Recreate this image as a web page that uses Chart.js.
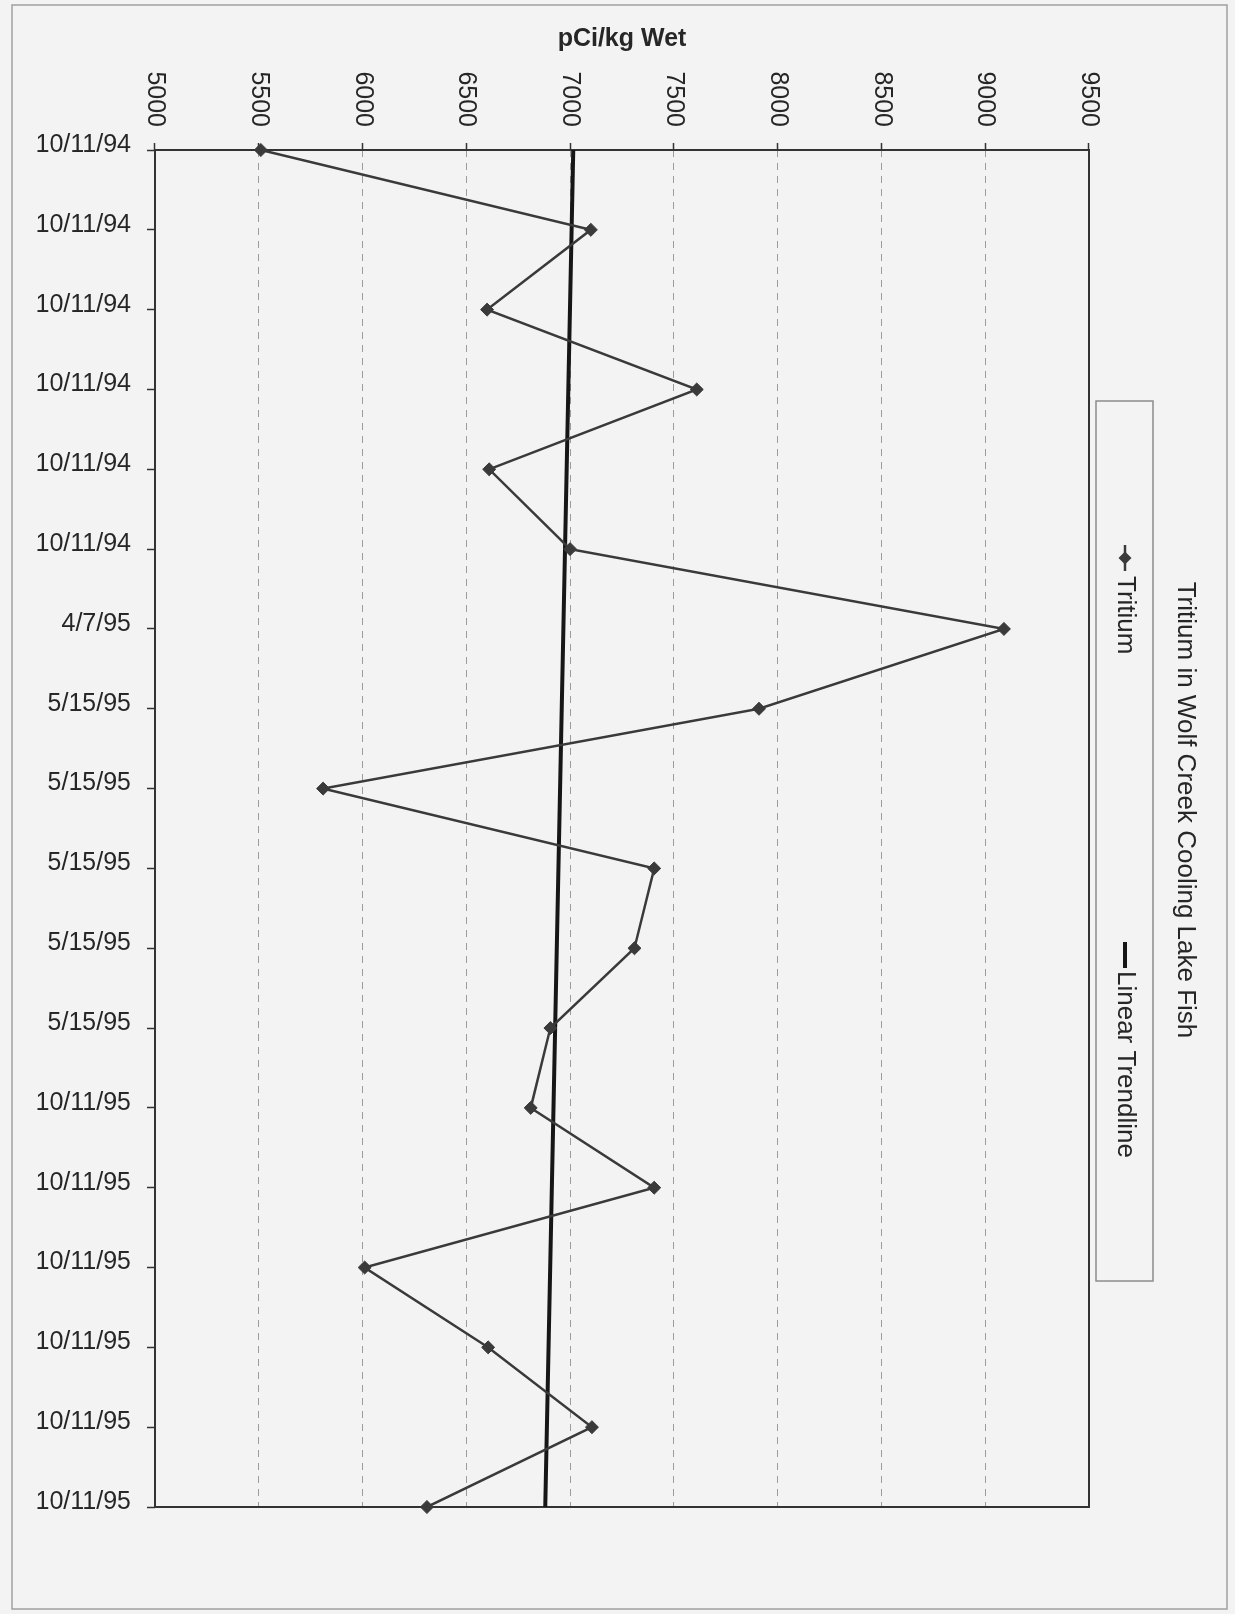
<!DOCTYPE html>
<html>
<head>
<meta charset="utf-8">
<title>Tritium in Wolf Creek Cooling Lake Fish</title>
<script src="https://cdn.jsdelivr.net/npm/chart.js@4.4.1/dist/chart.umd.min.js"></script>
<style>
  html, body { margin: 0; padding: 0; width: 1235px; height: 1614px; overflow: hidden; background: #f3f3f3; }
  /* The chart is laid out landscape and turned a quarter clockwise onto the portrait page */
  #sheet { position: absolute; left: 0; top: 0; width: 1614px; height: 1235px;
           transform-origin: 0 0; transform: translate(1235px, 0) rotate(90deg); }
  canvas { display: block; }
</style>
</head>
<body>
<div id="sheet"><canvas id="chart" width="1614" height="1235"></canvas></div>
<script>
// Sample collection dates (one entry per fish sample)
const sampleDates = [
  '10/11/94', '10/11/94', '10/11/94', '10/11/94', '10/11/94', '10/11/94',
  '4/7/95',
  '5/15/95', '5/15/95', '5/15/95', '5/15/95', '5/15/95',
  '10/11/95', '10/11/95', '10/11/95', '10/11/95', '10/11/95', '10/11/95'
];

// Tritium concentration, pCi/kg wet
const tritium = [5510, 7100, 6600, 7610, 6610, 7000, 9090, 7910, 5810,
                 7405, 7310, 6905, 6810, 7405, 6010, 6605, 7105, 6310];

// Linear trendline value at the first and last sample
const trendEnds = [7015, 6880];

// Value axis ticks
const valueTicks = [5000, 5500, 6000, 6500, 7000, 7500, 8000, 8500, 9000, 9500];

const axisTitle = 'pCi/kg Wet';
const legendTitle = 'Tritium in Wolf Creek Cooling Lake Fish';
const seriesNames = ['Tritium', 'Linear Trendline'];

const FONT = "'Liberation Sans', Arial, Helvetica, sans-serif";
const INK = '#262626';
const SERIES_COLOR = '#3a3a3a';
const TREND_COLOR = '#161616';

// Trendline only has values at both ends; the gap is spanned by a straight segment
const trendData = sampleDates.map((_, i) =>
  i === 0 ? trendEnds[0] : (i === sampleDates.length - 1 ? trendEnds[1] : null));

function diamond(ctx, cx, cy, r) {
  ctx.beginPath();
  ctx.moveTo(cx, cy - r);
  ctx.lineTo(cx + r, cy);
  ctx.lineTo(cx, cy + r);
  ctx.lineTo(cx - r, cy);
  ctx.closePath();
  ctx.fill();
}

const decorations = {
  id: 'decorations',
  beforeDraw(chart) {
    const ctx = chart.ctx;
    ctx.save();
    ctx.fillStyle = '#f3f3f3';
    ctx.fillRect(0, 0, chart.width, chart.height);
    // page frame
    ctx.strokeStyle = '#a0a0a0';
    ctx.lineWidth = 1.5;
    ctx.strokeRect(5, 8, 1604, 1215);
    ctx.restore();
  },
  beforeDatasetsDraw(chart) {
    const { ctx, chartArea: a } = chart;
    ctx.save();
    ctx.strokeStyle = '#333333';
    ctx.lineWidth = 2;
    ctx.strokeRect(a.left, a.top, a.right - a.left, a.bottom - a.top);
    ctx.restore();
  },
  afterDraw(chart) {
    const ctx = chart.ctx;
    ctx.save();
    // legend title
    ctx.fillStyle = INK;
    ctx.font = '26px ' + FONT;
    ctx.textAlign = 'center';
    ctx.textBaseline = 'middle';
    ctx.fillText(legendTitle, 810, 50);

    // legend box
    ctx.strokeStyle = '#8c8c8c';
    ctx.lineWidth = 1.5;
    ctx.strokeRect(401, 82, 880, 57);

    const cy = 110;
    // Tritium entry: line with diamond marker
    ctx.strokeStyle = SERIES_COLOR;
    ctx.lineWidth = 2.5;
    ctx.beginPath(); ctx.moveTo(545, cy); ctx.lineTo(571, cy); ctx.stroke();
    ctx.fillStyle = SERIES_COLOR;
    diamond(ctx, 558, cy, 6.5);
    ctx.fillStyle = INK;
    ctx.textAlign = 'left';
    ctx.fillText(seriesNames[0], 576, cy);

    // Trendline entry
    ctx.strokeStyle = TREND_COLOR;
    ctx.lineWidth = 4;
    ctx.beginPath(); ctx.moveTo(942, cy); ctx.lineTo(968, cy); ctx.stroke();
    ctx.fillText(seriesNames[1], 971, cy);
    ctx.restore();
  }
};

new Chart(document.getElementById('chart'), {
  type: 'line',
  data: {
    labels: sampleDates,
    datasets: [
      {
        label: seriesNames[0],
        data: tritium,
        borderColor: SERIES_COLOR,
        borderWidth: 2.5,
        pointStyle: 'rectRot',
        pointRadius: 6.5,
        pointBackgroundColor: SERIES_COLOR,
        pointBorderColor: SERIES_COLOR,
        pointBorderWidth: 1,
        tension: 0,
        fill: false,
        order: 1
      },
      {
        label: seriesNames[1],
        data: trendData,
        spanGaps: true,
        borderColor: TREND_COLOR,
        borderWidth: 4,
        pointRadius: 0,
        tension: 0,
        fill: false,
        order: 2
      }
    ]
  },
  options: {
    responsive: false,
    animation: false,
    devicePixelRatio: 1,
    layout: { padding: { top: 146, right: 107, left: 0, bottom: 0 } },
    plugins: {
      legend: { display: false },
      tooltip: { enabled: false }
    },
    scales: {
      x: {
        type: 'category',
        position: 'bottom',
        afterFit(scale) { scale.height = 155; },
        grid: { display: true, drawOnChartArea: false, drawTicks: true, tickLength: 8,
                tickColor: '#333333', tickWidth: 1.5 },
        border: { display: false },
        ticks: {
          autoSkip: false, minRotation: 90, maxRotation: 90, padding: 16, labelOffset: -5,
          color: INK, font: { family: FONT, size: 25 }
        }
      },
      y: {
        type: 'linear',
        position: 'left',
        min: valueTicks[0],
        max: valueTicks[valueTicks.length - 1],
        afterFit(scale) { scale.width = 150; },
        afterBuildTicks(scale) { scale.ticks = valueTicks.map(v => ({ value: v })); },
        grid: { color: '#9c9c9c', lineWidth: 1, drawTicks: true, tickLength: 7,
                tickColor: '#333333', tickWidth: 1.5, tickBorderDash: [] },
        border: { display: false, dash: [7, 6] },
        title: {
          display: true, text: axisTitle, color: INK,
          font: { family: FONT, size: 25, weight: 'bold' },
          padding: { top: 24, bottom: 0 }
        },
        ticks: {
          padding: 16, color: INK, font: { family: FONT, size: 25 },
          callback: v => String(v)
        }
      }
    }
  },
  plugins: [decorations]
});
</script>
</body>
</html>
